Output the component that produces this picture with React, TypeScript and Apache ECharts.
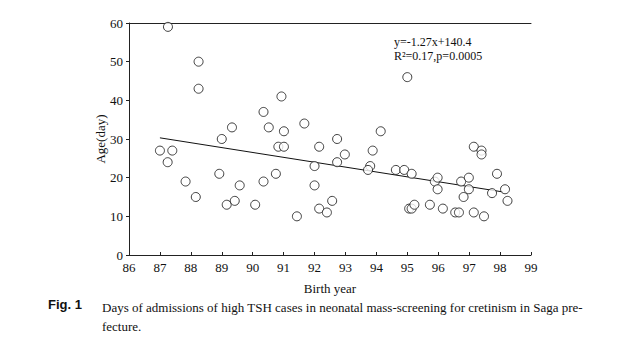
import React, { useEffect, useRef } from "react";
import * as echarts from "echarts";

const birthYear = [
  87.0, 87.25, 87.4, 87.83, 88.16, 87.26, 88.25, 88.25, 89.0, 89.33,
  90.35, 90.52, 90.93, 91.01, 91.67, 88.92, 89.16, 89.42, 89.58, 90.08,
  90.35, 90.75, 90.83, 91.01, 91.43, 92.0, 92.0, 92.15, 92.15, 92.4,
  92.57, 92.73, 92.73, 92.98, 94.14, 93.88, 93.8, 93.73, 94.63, 94.9,
  95.14, 95.06, 95.14, 95.23, 95.73, 95.89, 95.98, 95.98, 96.15, 96.55,
  96.67, 96.74, 96.82, 96.99, 96.99, 97.15, 97.15, 97.4, 97.4, 97.48,
  97.74, 97.9, 98.16, 98.24, 95.0,
];
const ageDays = [
  27, 24, 27, 19, 15, 59, 50, 43, 30, 33,
  37, 33, 41, 32, 34, 21, 13, 14, 18, 13,
  19, 21, 28, 28, 10, 23, 18, 28, 12, 11,
  14, 30, 24, 26, 32, 27, 23, 22, 22, 22,
  21, 12, 12, 13, 13, 19, 20, 17, 12, 11,
  11, 19, 15, 20, 17, 28, 11, 27, 26, 10,
  16, 21, 17, 14, 46,
];
const trendX = [87.0, 98.1];
const trendY = [30.3, 16.3];
const xTicks = [86, 99];
const yTicks = [0, 60];
const equationLines = ["y=-1.27x+140.4", "R\u00b2=0.17,p=0.0005"];
const captionLabel = "Fig. 1";
const captionLines = [
  "Days of admissions of high TSH cases in neonatal mass-screening for cretinism in Saga pre-",
  "fecture.",
];

const SERIF = "'Liberation Serif', 'DejaVu Serif', serif";

export default function App() {
  const ref = useRef<HTMLDivElement>(null);
  useEffect(() => {
    if (!ref.current) return;
    const chart = echarts.init(ref.current, undefined, { renderer: "svg" });
    const points = birthYear.map((x, i) => [x, ageDays[i]]);
    const trend = trendX.map((x, i) => [x, trendY[i]]);
    chart.setOption({
      animation: false,
      backgroundColor: "#ffffff",
      grid: { left: 129, right: 90, top: 23, bottom: 96, containLabel: false },
      xAxis: [
        {
          type: "value",
          min: xTicks[0],
          max: xTicks[1],
          interval: 1,
          name: "Birth year",
          nameLocation: "middle",
          nameGap: 27,
          nameMoveOverlap: false,
          nameTextStyle: { fontFamily: SERIF, fontSize: 13, color: "#111" },
          axisLine: { show: true, lineStyle: { color: "#222", width: 1 } },
          axisTick: { show: true, inside: true, length: 3, lineStyle: { color: "#222" } },
          axisLabel: { fontFamily: SERIF, fontSize: 13, color: "#111", margin: 6 },
          splitLine: { show: false },
        },
        {
          type: "value",
          position: "top",
          min: xTicks[0],
          max: xTicks[1],
          axisLine: { show: true, onZero: false, lineStyle: { color: "#222", width: 1 } },
          axisTick: { show: false },
          axisLabel: { show: false },
          splitLine: { show: false },
        },
      ],
      yAxis: {
        type: "value",
        min: yTicks[0],
        max: yTicks[1],
        interval: 10,
        name: "Age(day)",
        nameLocation: "middle",
        nameGap: 22,
        nameRotate: 90,
        nameMoveOverlap: false,
        nameTextStyle: { fontFamily: SERIF, fontSize: 13, color: "#111" },
        axisLine: { show: true, lineStyle: { color: "#222", width: 1 } },
        axisTick: { show: true, inside: false, length: 3, lineStyle: { color: "#222" } },
        axisLabel: { fontFamily: SERIF, fontSize: 13, color: "#111", margin: 6 },
        splitLine: { show: false },
      },
      series: [
        {
          type: "scatter",
          data: points,
          symbol: "circle",
          symbolSize: 9,
          itemStyle: { color: "#ffffff", borderColor: "#111", borderWidth: 1 },
          z: 3,
        },
        {
          type: "line",
          data: trend,
          symbol: "none",
          lineStyle: { color: "#111", width: 1 },
          z: 2,
        },
      ],
      graphic: [
        {
          type: "text",
          left: 394,
          top: 35,
          style: {
            text: equationLines.join("\n"),
            font: `12px ${SERIF}`,
            fill: "#111",
            lineHeight: 14,
          },
        },
        {
          type: "text",
          left: 48,
          top: 298,
          style: {
            text: captionLabel,
            font: `bold 13px 'Liberation Sans', Arial, sans-serif`,
            fill: "#111",
          },
        },
        {
          type: "text",
          left: 102,
          top: 298,
          style: {
            text: captionLines.join("\n"),
            font: `13px ${SERIF}`,
            fill: "#111",
            lineHeight: 19,
          },
        },
      ],
    });
    return () => chart.dispose();
  }, []);
  return (
    <div
      ref={ref}
      style={{ position: "fixed", left: 0, top: 0, width: 621, height: 351 }}
    />
  );
}
